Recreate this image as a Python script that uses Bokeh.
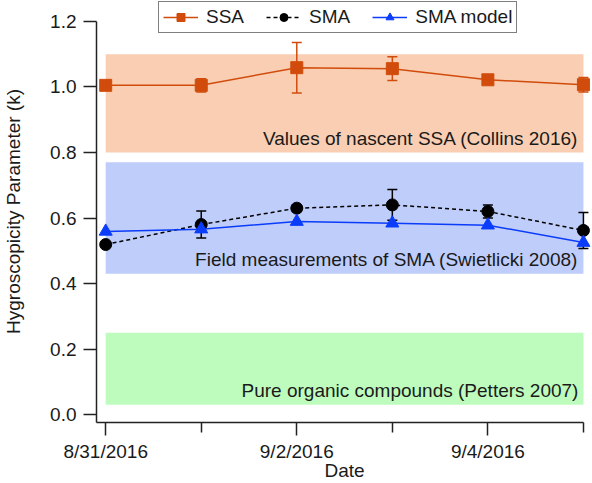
import pandas as pd
from bokeh.plotting import figure
from bokeh.models import (ColumnDataSource, Range1d, FixedTicker, Whisker, TeeHead,
                          Legend, LegendItem, PrintfTickFormatter)
from bokeh.core.properties import value
from bokeh.embed import file_html
from bokeh.resources import INLINE

# ---------------- data ----------------
dates = ["8/31/2016", "9/1/2016", "9/2/2016", "9/3/2016", "9/4/2016", "9/5/2016"]
ssa = [1.005, 1.005, 1.059, 1.056, 1.022, 1.007]
ssa_err = [0.0, 0.020, 0.077, 0.036, 0.012, 0.022]
sma = [0.519, 0.580, 0.630, 0.640, 0.620, 0.562]
sma_err = [0.0, 0.041, 0.010, 0.047, 0.020, 0.055]
sma_model = [0.559, 0.566, 0.589, 0.584, 0.578, 0.525]

band_low = [0.80, 0.43, 0.03]
band_high = [1.10, 0.77, 0.25]
band_labels = ["Values of nascent SSA (Collins 2016)",
               "Field measurements of SMA (Swietlicki 2008)",
               "Pure organic compounds (Petters 2007)"]
band_colors = ["#F9CEB2", "#BFCDFA", "#BEFCBE"]

y_ticks = [0.0, 0.2, 0.4, 0.6, 0.8, 1.0, 1.2]

# ---------------- derived ----------------
dt = pd.to_datetime(dates, format="%m/%d/%Y")
days = [int(d) for d in (dt - dt[0]).days]
major = days[::2]
minor = days[1::2]

FONT = "Liberation Sans"
FS = "19px"
TXT = "#1a1a1a"
C_SSA = "#D14C0C"
C_SMA = "#000000"
C_MOD = "#0A3CFA"

X0, X1 = -0.0962, 5.095
Y0, Y1 = -0.0244, 1.2641

src = ColumnDataSource(dict(
    x=days, ssa=ssa, sma=sma, mod=sma_model,
    ssa_lo=[v - e for v, e in zip(ssa, ssa_err)],
    ssa_hi=[v + e for v, e in zip(ssa, ssa_err)],
    sma_lo=[v - e for v, e in zip(sma, sma_err)],
    sma_hi=[v + e for v, e in zip(sma, sma_err)],
))

band_src = ColumnDataSource(dict(
    left=[days[0]] * 3, right=[days[-1]] * 3,
    bottom=band_low, top=band_high, color=band_colors, label=band_labels,
))

p = figure(width=592, height=483, output_backend="svg", toolbar_location=None,
           x_range=Range1d(X0, X1), y_range=Range1d(Y0, Y1),
           min_border_left=90, min_border_right=0, min_border_top=0,
           min_border_bottom=61)
p.outline_line_color = None
p.grid.visible = False
p.background_fill_color = "white"
p.border_fill_color = "white"

# bands
p.quad(left="left", right="right", bottom="bottom", top="top", color="color",
       line_color=None, source=band_src, level="image")
p.text(x="right", y="bottom", text="label", source=band_src,
       text_align="right", text_baseline="middle", x_offset=-5, y_offset=-14,
       text_font=value(FONT), text_font_size=FS, text_color=TXT)

# error bars
for lo, hi, col in (("ssa_lo", "ssa_hi", C_SSA), ("sma_lo", "sma_hi", C_SMA)):
    w = Whisker(base="x", lower=lo, upper=hi, source=src, line_color=col,
                line_width=1.5, level="underlay",
                upper_head=TeeHead(size=10, line_color=col, line_width=1.5),
                lower_head=TeeHead(size=10, line_color=col, line_width=1.5))
    p.add_layout(w)

# series
l1 = p.line("x", "ssa", source=src, line_color=C_SSA, line_width=1.5)
m1 = p.scatter("x", "ssa", source=src, marker="square", size=12,
               fill_color=C_SSA, line_color=C_SSA)
l2 = p.line("x", "sma", source=src, line_color=C_SMA, line_width=1.5,
            line_dash="4 3")
m2 = p.scatter("x", "sma", source=src, marker="circle", size=12,
               fill_color=C_SMA, line_color=C_SMA)
l3 = p.line("x", "mod", source=src, line_color=C_MOD, line_width=1.5)
m3 = p.scatter("x", "mod", source=src, marker="triangle", size=13,
               fill_color=C_MOD, line_color=C_MOD)

legend = Legend(items=[LegendItem(label="SSA", renderers=[l1, m1]),
                       LegendItem(label="SMA", renderers=[l2, m2]),
                       LegendItem(label="SMA model", renderers=[l3, m3])],
                orientation="horizontal", location=(62, 389),
                glyph_width=35, glyph_height=20, label_height=20,
                label_standoff=8, spacing=22, padding=4, margin=0,
                label_text_font=FONT, label_text_font_size=FS,
                label_text_color=TXT, border_line_color="#000000",
                border_line_width=1.5, background_fill_color="white",
                background_fill_alpha=1.0)
p.add_layout(legend, "center")

# axes
xa = p.xaxis[0]
xa.ticker = FixedTicker(ticks=major, minor_ticks=minor)
xa.major_label_overrides = {d: dates[i] for i, d in enumerate(days) if d in major}
xa.axis_label = "Date"
xa.major_label_standoff = 5
xa.axis_label_standoff = -5
xa.bounds = (X0, days[-1])

ya = p.yaxis[0]
ya.ticker = FixedTicker(ticks=y_ticks, minor_ticks=[])
ya.formatter = PrintfTickFormatter(format="%.1f")
ya.axis_label = "Hygroscopicity Parameter (k)"
ya.major_label_standoff = 7
ya.axis_label_standoff = 23
ya.bounds = (Y0, y_ticks[-1])

for ax in (xa, ya):
    ax.axis_line_width = 1.5
    ax.axis_line_color = "#222222"
    ax.major_tick_line_width = 1.5
    ax.major_tick_line_color = "#222222"
    ax.minor_tick_line_width = 1.5
    ax.minor_tick_line_color = "#222222"
    ax.major_tick_in = 0
    ax.major_tick_out = 13
    ax.minor_tick_in = 0
    ax.minor_tick_out = 10
    ax.major_label_text_font = FONT
    ax.major_label_text_font_size = FS
    ax.major_label_text_color = TXT
    ax.axis_label_text_font = FONT
    ax.axis_label_text_font_size = FS
    ax.axis_label_text_font_style = "normal"
    ax.axis_label_text_color = TXT

open("out.html", "w").write(file_html(p, INLINE))
